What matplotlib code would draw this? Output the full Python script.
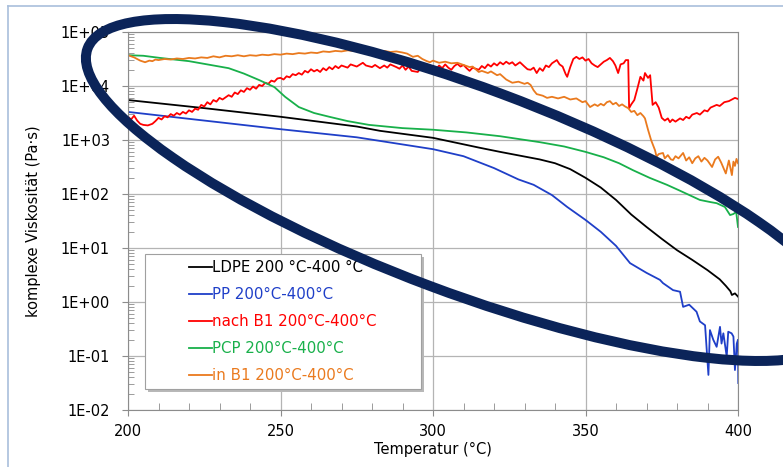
import numpy as np
import matplotlib
matplotlib.use("Agg")
import matplotlib.pyplot as plt
from matplotlib.patches import Ellipse, Rectangle
from matplotlib.lines import Line2D
from matplotlib.ticker import FixedLocator, FuncFormatter, MultipleLocator
from matplotlib.transforms import IdentityTransform

# values: temperature (°C) and log10 of complex viscosity (Pa·s)
ldpe_t = [200, 225, 250, 275, 282.6, 300, 315, 322, 335, 340, 345, 350, 355, 360,
          365, 370, 375, 380, 385, 390, 394, 396, 397.5, 398, 399, 400]
ldpe_log = [3.74, 3.59, 3.43, 3.25, 3.17, 3.04, 2.86, 2.78, 2.64, 2.57, 2.46, 2.30, 2.12, 1.89,
            1.62, 1.39, 1.17, 0.96, 0.78, 0.59, 0.42, 0.30, 0.20, 0.13, 0.16, 0.10]

pp_t = [200, 225, 250, 275, 300, 310, 320, 328, 333, 339, 344, 350, 355, 360, 364.6, 370,
        374.4, 375.4, 378.7, 381, 382, 384, 386.4, 387.5, 389.2, 390.3, 390.8, 391.9, 393,
        394.1, 394.6, 395.2, 396.3, 396.8, 397.9, 398.5, 399, 399.6, 400, 400.1]
pp_log = [3.52, 3.36, 3.20, 3.05, 2.83, 2.70, 2.48, 2.27, 2.17, 1.98, 1.76, 1.52, 1.30, 1.04, 0.72, 0.54,
          0.41, 0.35, 0.22, 0.19, -0.09, -0.05, -0.18, -0.36, -0.43, -1.35, -0.52, -0.70, -0.83,
          -0.46, -0.77, -0.58, -1.01, -0.55, -0.58, -0.64, -1.26, -0.77, -0.70, -1.50]

nach_t = [200, 201, 202, 203, 204, 205, 206.5, 208, 209, 210, 211, 212, 213, 214, 215, 216, 217,
          218, 219, 220, 221, 222, 223, 224, 225, 226, 227, 228, 229, 230, 231, 233, 234, 235,
          236, 237, 238, 239, 240, 241, 242, 243, 244, 245, 246, 247, 248, 249, 250, 251, 252,
          253, 254, 255, 256, 257, 258, 259, 260, 261, 262, 263, 264, 265, 266, 267, 268, 269,
          270, 272, 273, 275, 277, 278, 280, 281, 282.6, 284, 285, 286, 288, 289, 290, 291, 292,
          293, 295, 296, 297, 299, 300, 301, 302, 303, 304, 305, 306, 307, 308, 309, 310, 311,
          312, 313, 315, 316, 317, 318, 319, 320, 321, 322, 323, 324, 325, 326, 327, 328.5, 330,
          331, 332, 333, 334, 335, 336, 337, 338, 339, 340.6, 341.5, 342.5, 343.5, 344, 345, 346,
          347, 348, 349, 350, 351, 352, 353, 354, 355, 356, 357, 358, 359, 359.8, 360.7, 361.5,
          362.5, 363.2, 364, 364.3, 365, 366, 367, 368, 369, 369.5, 370.5, 371.2, 372, 373, 374,
          375, 376, 377, 377.7, 378.5, 379.5, 381, 382, 383, 384, 385, 386.5, 387.5, 389, 390,
          391, 393, 394, 395.5, 397, 398, 399, 400]
nach_log = [3.43, 3.38, 3.45, 3.36, 3.30, 3.28, 3.27, 3.30, 3.35, 3.41, 3.38, 3.44, 3.42, 3.48,
            3.45, 3.50, 3.47, 3.52, 3.49, 3.55, 3.52, 3.58, 3.56, 3.65, 3.62, 3.70, 3.66, 3.74,
            3.71, 3.78, 3.75, 3.83, 3.80, 3.88, 3.85, 3.92, 3.89, 3.96, 3.93, 3.99, 3.95, 4.02,
            4.00, 4.06, 4.04, 4.10, 4.08, 4.14, 4.15, 4.12, 4.18, 4.16, 4.22, 4.20, 4.24, 4.21,
            4.28, 4.25, 4.31, 4.27, 4.30, 4.26, 4.33, 4.29, 4.35, 4.31, 4.37, 4.33, 4.38, 4.34,
            4.40, 4.36, 4.43, 4.38, 4.35, 4.39, 4.33, 4.38, 4.34, 4.40, 4.35, 4.32, 4.38, 4.30,
            4.36, 4.28, 4.26, 4.33, 4.29, 4.33, 4.37, 4.31, 4.38, 4.33, 4.40, 4.34, 4.30, 4.37,
            4.41, 4.36, 4.39, 4.33, 4.28, 4.34, 4.30, 4.37, 4.33, 4.40, 4.36, 4.42, 4.38, 4.44,
            4.40, 4.45, 4.41, 4.44, 4.38, 4.44, 4.36, 4.31, 4.30, 4.34, 4.24, 4.33, 4.28, 4.38,
            4.35, 4.42, 4.48, 4.40, 4.36, 4.22, 4.17, 4.35, 4.50, 4.54, 4.50, 4.53, 4.47, 4.50,
            4.42, 4.38, 4.35, 4.40, 4.45, 4.48, 4.52, 4.46, 4.38, 4.24, 4.40, 4.42, 4.48, 4.48,
            3.59, 3.66, 3.74, 3.95, 4.17, 4.10, 4.24, 4.15, 4.20, 3.65, 3.70, 3.60, 3.41, 3.36,
            3.40, 3.33, 3.38, 3.34, 3.40, 3.37, 3.43, 3.40, 3.47, 3.50, 3.47, 3.55, 3.53, 3.60,
            3.65, 3.63, 3.70, 3.72, 3.75, 3.78, 3.76]

pcp_t = [200, 205, 210.5, 220, 226, 233, 238, 243, 248, 251.5, 256, 261, 266, 272, 279, 290,
         300, 311, 322, 335, 343, 350, 356, 361, 365.6, 371, 376.7, 381, 387.5, 391, 393,
         395.7, 397.4, 398.5, 399.4, 400]
pcp_log = [4.57, 4.56, 4.52, 4.46, 4.40, 4.33, 4.23, 4.11, 3.98, 3.80, 3.61, 3.50, 3.43, 3.35,
           3.28, 3.22, 3.19, 3.14, 3.07, 2.96, 2.88, 2.78, 2.68, 2.57, 2.44, 2.30, 2.17, 2.06,
           1.89, 1.85, 1.83, 1.76, 1.61, 1.63, 1.67, 1.39]

in_t = [200, 201, 202, 203, 204, 205.6, 207, 208, 209, 210, 212, 214, 216, 218, 220, 222, 224,
        226, 228, 230, 232, 234, 236, 238, 240, 242, 244, 246, 248, 250, 252, 254, 256, 258,
        260, 262, 264, 266, 268, 270, 272, 274, 276, 278, 280, 281, 282.6, 284, 286, 288, 290,
        291.5, 293.4, 295, 296.5, 298, 299, 300, 302, 304, 306, 308, 310, 312, 313, 315, 316,
        318, 319, 321, 322, 324, 326, 328, 330, 331, 332, 333, 334, 336, 337.4, 339, 341, 343,
        345, 347, 349, 350, 351.5, 353, 354, 355, 356, 357, 358, 359, 360, 361, 362, 363, 364,
        365, 366, 367, 368, 369, 369.5, 370.5, 371.5, 372.8, 373.3, 374, 375.4, 376, 377, 378,
        378.7, 379.5, 380.5, 382, 383, 384, 385, 386, 387, 388, 389, 390, 391.5, 392.5, 393.5,
        394.5, 396, 397, 398, 398.5, 399, 399.5, 400]
in_log = [4.57, 4.55, 4.53, 4.50, 4.47, 4.44, 4.47, 4.46, 4.49, 4.48, 4.50, 4.49, 4.51, 4.50,
          4.52, 4.51, 4.53, 4.52, 4.55, 4.53, 4.56, 4.55, 4.57, 4.55, 4.57, 4.56, 4.58, 4.57,
          4.59, 4.58, 4.60, 4.59, 4.61, 4.60, 4.62, 4.61, 4.64, 4.63, 4.65, 4.64, 4.66, 4.65,
          4.68, 4.67, 4.66, 4.64, 4.63, 4.65, 4.63, 4.64, 4.62, 4.60, 4.54, 4.56, 4.50, 4.46,
          4.44, 4.47, 4.43, 4.45, 4.42, 4.43, 4.39, 4.35, 4.36, 4.26, 4.28, 4.24, 4.27, 4.20,
          4.22, 4.12, 4.06, 4.08, 4.04, 4.06, 4.02, 3.92, 3.85, 3.82, 3.78, 3.80, 3.77, 3.80,
          3.75, 3.77, 3.70, 3.72, 3.61, 3.66, 3.63, 3.67, 3.64, 3.70, 3.72, 3.66, 3.69, 3.63,
          3.66, 3.62, 3.59, 3.52, 3.54, 3.46, 3.50, 3.44, 3.40, 3.19, 3.00, 2.81, 2.69, 2.74,
          2.76, 2.66, 2.72, 2.64, 2.63, 2.70, 2.66, 2.76, 2.62, 2.68, 2.57, 2.66, 2.70, 2.60,
          2.67, 2.62, 2.50, 2.64, 2.69, 2.58, 2.38, 2.62, 2.35, 2.60, 2.52, 2.65, 2.57]

series = [
    ("LDPE 200 °C-400 °C", ldpe_t, ldpe_log, "#000000"),
    ("PP 200°C-400°C", pp_t, pp_log, "#1f3fc8"),
    ("nach B1 200°C-400°C", nach_t, nach_log, "#ff0000"),
    ("PCP 200°C-400°C", pcp_t, pcp_log, "#18b04a"),
    ("in B1 200°C-400°C", in_t, in_log, "#ea7a1e"),
]

plt.rcParams['font.family'] = ['DejaVu Sans']
W, H = 783, 467
fig = plt.figure(figsize=(W / 100, H / 100), dpi=100)
fig.patch.set_facecolor("white")

# axes area in pixels: x 128..738, y 32..410
ax = fig.add_axes([128 / W, 1 - 410 / H, 610 / W, 378 / H])

for label, t, lg, col in series:
    ax.plot(t, 10 ** np.array(lg), color=col, lw=1.3, label=label)

ax.set_yscale("log")
ax.set_xlim(200, 400)
ax.set_ylim(1e-2, 1e5)
ax.set_xticks([200, 250, 300, 350, 400])
ax.xaxis.set_minor_locator(MultipleLocator(10))
ax.yaxis.set_major_locator(FixedLocator([10.0 ** e for e in range(-2, 6)]))
ax.yaxis.set_major_formatter(FuncFormatter(lambda v, p: "1E%+03d" % int(round(np.log10(v)))))
ax.grid(True, which="major", color="#b4b4b4", lw=0.9)
ax.set_axisbelow(True)
for s in ax.spines.values():
    s.set_color("#8c8c8c")
ax.tick_params(which="major", direction="out", length=4, color="#8c8c8c", labelsize=10.5)
ax.tick_params(axis="y", which="major", pad=9)
ax.tick_params(axis="x", which="major", pad=6)
ax.tick_params(which="minor", direction="in", length=4, color="#8c8c8c")
ax.tick_params(axis="x", which="minor", length=5)

ax.set_xlabel("Temperatur (°C)", fontsize=10.5)
ax.set_ylabel("komplexe Viskosität (Pa·s)", fontsize=10.5)
ax.xaxis.set_label_coords(0.5, -0.085)
ax.yaxis.set_label_coords(-0.142, 0.5)

# legend box with shadow
bx0, by0, bx1, by1 = 145, 254, 421, 389
to_ax = lambda px, py: ((px - 128) / 610, (410 - py) / 378)
sx, sy = to_ax(bx0 + 3, by1 + 3)
ax.add_patch(Rectangle((sx, sy), (bx1 - bx0) / 610, (by1 - by0) / 378, transform=ax.transAxes,
                       facecolor="#b8b8b8", edgecolor="none", zorder=4))
lx, ly = to_ax(bx0, by1)
ax.add_patch(Rectangle((lx, ly), (bx1 - bx0) / 610, (by1 - by0) / 378, transform=ax.transAxes,
                       facecolor="white", edgecolor="#a0a0a0", lw=0.8, zorder=5))
leg = ax.legend(loc="upper left", bbox_to_anchor=to_ax(189, 260), frameon=False,
                fontsize=10.8, handlelength=1.5, handletextpad=0.05, labelspacing=0.8,
                borderpad=0, borderaxespad=0, labelcolor="linecolor")
leg.set_zorder(6)

# light blue frame of the slide
fig.add_artist(Line2D([8, 8], [0, H - 6], transform=IdentityTransform(), color="#a9bfdc", lw=1.2))
fig.add_artist(Line2D([8, W], [H - 6, H - 6], transform=IdentityTransform(), color="#a9bfdc", lw=1.2))

# dark annotation ellipse
fig.add_artist(Ellipse((466, H - 190), 808, 205, angle=-20.5, transform=IdentityTransform(),
                       fill=False, edgecolor="#0b2459", lw=7.2, zorder=10))

fig.savefig("out.png", dpi=100)
